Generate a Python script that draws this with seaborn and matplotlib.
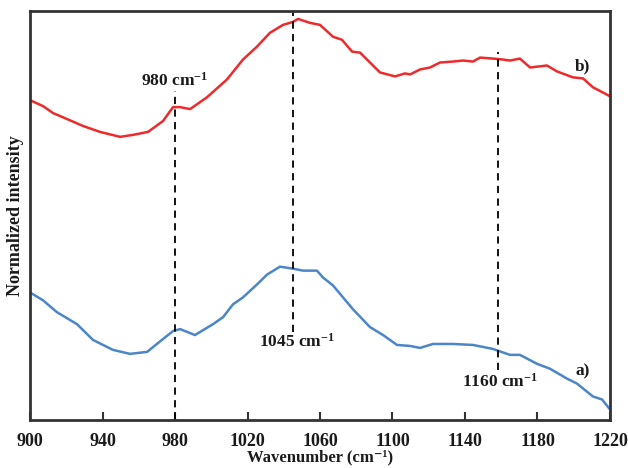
import matplotlib
matplotlib.use("Agg")
import matplotlib.pyplot as plt
import seaborn as sns
import pandas as pd

# Spectrum b) (top, red)
wn_b = [900, 907.2, 912.7, 920.4, 929.2, 938.6, 949.7, 956.8, 965.1, 973.4, 978.9, 982.8,
        988.3, 997.7, 1008.7, 1017.5, 1025.2, 1032.4, 1039.6, 1045.1, 1047.9, 1054.5, 1060.0,
        1067.2, 1072.1, 1077.7, 1082.1, 1087.6, 1093.1, 1101.4, 1106.9, 1109.7, 1115.2, 1120.7,
        1126.2, 1133.4, 1138.9, 1144.4, 1148.3, 1155.4, 1161.0, 1164.8, 1170.3, 1175.9, 1185.2,
        1190.8, 1199.6, 1205.1, 1210.6, 1220]
int_b = [323, 317, 310, 304, 297, 291, 286, 288, 291, 302, 316, 316,
         314, 326, 344, 364, 377, 391, 399, 402, 405, 401, 399,
         387, 384, 372, 371, 361, 351, 347, 350, 349, 354, 356,
         361, 362, 363, 362, 366, 365, 364, 363, 365, 356, 358,
         352, 346, 345, 336, 327]

# Spectrum a) (bottom, blue)
wn_a = [900, 907.2, 914.9, 925.9, 934.8, 945.8, 955.2, 964.6, 973.4, 978.9, 982.8, 991.0,
        1001.0, 1006.5, 1012.0, 1017.5, 1025.2, 1030.8, 1037.9, 1045.1, 1050.6, 1058.3, 1061.7,
        1067.2, 1072.7, 1078.2, 1087.6, 1094.8, 1102.5, 1109.7, 1115.2, 1122.3, 1133.4, 1144.4,
        1155.4, 1164.8, 1170.3, 1179.7, 1186.9, 1196.3, 1201.8, 1210.6, 1215.6, 1220]
int_a = [129, 121, 109, 97, 81, 71, 67, 69, 82, 90, 92, 86,
         97, 104, 117, 124, 137, 147, 155, 153, 151, 151, 144,
         136, 124, 112, 94, 86, 76, 75, 73, 77, 77, 76,
         72, 66, 66, 57, 52, 42, 37, 24, 21, 11]

xticks = [900, 940, 980, 1020, 1060, 1100, 1140, 1180, 1220]
peaks = [980, 1045, 1158]
peak_labels = ["980", "1045", "1160"]

df = pd.concat([
    pd.DataFrame({"wn": wn_a, "I": int_a, "s": "a)"}),
    pd.DataFrame({"wn": wn_b, "I": int_b, "s": "b)"}),
])

sns.set_theme(style="white")
plt.rcParams["font.family"] = ["Liberation Serif", "DejaVu Serif"]
plt.rcParams["mathtext.fontset"] = "custom"
plt.rcParams["mathtext.rm"] = "Liberation Serif:bold"
plt.rcParams["mathtext.bf"] = "Liberation Serif:bold"
plt.rcParams["mathtext.it"] = "Liberation Serif:bold"

fig = plt.figure(figsize=(6.28, 4.68), dpi=100)
ax = fig.add_axes([0.0478, 0.102, 0.9235, 0.8745])
sns.lineplot(data=df, x="wn", y="I", hue="s", palette={"a)": "#4A86C8", "b)": "#EE2A2A"},
             linewidth=1.8, legend=False, ax=ax, sort=False)

ax.set_xlim(900, 1220)
ax.set_ylim(0, 413)
ax.set_xticks(xticks)
ax.set_xticklabels([str(t) for t in xticks], fontsize=13, fontweight="bold")
ax.set_yticks([])
ax.tick_params(axis="x", direction="in", length=6, width=1.5, color="#333333", pad=9,
               bottom=True, labelcolor="#1a1a1a")
for s in ax.spines.values():
    s.set_linewidth(2)
    s.set_color("#333333")

ax.set_xlabel("Wavenumber (cm\u207b\u00b9)", fontsize=12, fontweight="bold", labelpad=0,
              color="#1a1a1a")
ax.set_ylabel("Normalized intensity", fontsize=13, fontweight="bold", labelpad=4,
              color="#1a1a1a")

# dashed marker lines (in data units)
ax.plot([peaks[0], peaks[0]], [0, 332], ls=(0, (4, 3)), color="black", lw=1.3)
ax.plot([peaks[1], peaks[1]], [89, 413], ls=(0, (4, 3)), color="black", lw=1.3)
ax.plot([peaks[2], peaks[2]], [51, 372], ls=(0, (4, 3)), color="black", lw=1.3)

fs = 12.5
ax.text(peaks[0], 343, peak_labels[0] + r" cm$^{-1}$", ha="center", va="center",
        fontsize=fs, fontweight="bold", color="#1a1a1a")
ax.text(peaks[1] + 2, 79, peak_labels[1] + r" cm$^{-1}$", ha="center", va="center",
        fontsize=fs, fontweight="bold", color="#1a1a1a")
ax.text(peaks[2] + 1, 39, peak_labels[2] + r" cm$^{-1}$", ha="center", va="center",
        fontsize=fs, fontweight="bold", color="#1a1a1a")
ax.text(1205, 357, "b)", ha="center", va="center", fontsize=fs, fontweight="bold",
        color="#1a1a1a")
ax.text(1205, 49, "a)", ha="center", va="center", fontsize=fs, fontweight="bold",
        color="#1a1a1a")

fig.savefig("out.png", dpi=100)
